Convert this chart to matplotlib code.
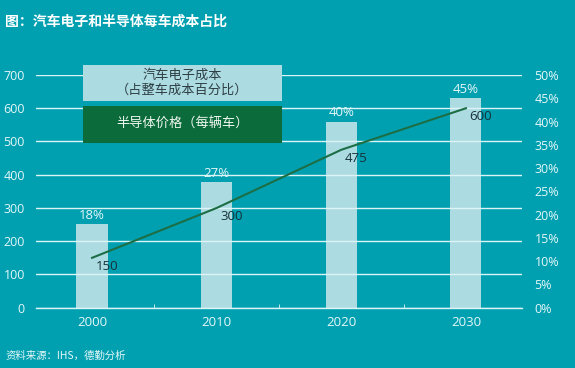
import numpy as np
import matplotlib.pyplot as plt
from matplotlib.patches import Rectangle

plt.rcParams['font.family'] = ['Open Sans', 'Noto Sans CJK SC', 'DejaVu Sans']

years = ['2000', '2010', '2020', '2030']
share_pct = [18, 27, 40, 45]          # electronics cost share of car (right axis)
semi_price = [150, 300, 475, 600]     # semiconductor cost per car (left axis)
left_ticks = [0, 100, 200, 300, 400, 500, 600, 700]
right_ticks = [0, 5, 10, 15, 20, 25, 30, 35, 40, 45, 50]

bg = '#00A0B0'
bar_c = '#ADDBE2'
green = '#0B6B3A'
line_c = '#1C6E45'
txt = '#E6F7F9'

fig = plt.figure(figsize=(5.75, 3.68), dpi=100, facecolor=bg)
ax = fig.add_axes([0.0626, 0.1639, 0.8452, 0.6323], facecolor=bg)
ax2 = ax.twinx()

x = np.arange(len(years))

# bars on right axis
ax2.bar(x, share_pct, width=0.25, color=bar_c, zorder=2)
for xi, v in zip(x, share_pct):
    ax2.annotate(f'{v}%', (xi, v), xytext=(0, 1.5), textcoords='offset points',
                 ha='center', va='bottom', color=txt, fontsize=9.5)
ax2.set_ylim(0, 50)
ax2.set_yticks(right_ticks)
ax2.set_yticklabels([f'{t}%' for t in right_ticks])

# gridlines + line on left axis
ax.set_ylim(0, 700)
ax.set_yticks(left_ticks)
ax.grid(axis='y', color='#DDF4F7', linewidth=1)
ax.set_axisbelow(True)
ax.set_zorder(ax2.get_zorder() + 1)
ax.patch.set_visible(False)
ax2.patch.set_visible(False)
ax.plot(x, semi_price, color=line_c, linewidth=1.5, zorder=3)
for xi, v in zip(x, semi_price):
    ax.annotate(str(v), (xi, v), xytext=(2.5, -1.5), textcoords='offset points',
                ha='left', va='top', color='#16323A', fontsize=9.5)

ax.set_xlim(-0.45, 3.45)
ax.set_xticks(x)
ax.set_xticklabels(years)
ax.set_xticks([0.5, 1.5, 2.5], minor=True)
ax.tick_params(axis='x', which='major', length=0, colors=txt, labelsize=9.5, pad=6)
ax.tick_params(axis='x', which='minor', length=3, direction='in', color='#DDF4F7')
ax.tick_params(axis='y', length=0, colors=txt, labelsize=9, pad=8)
ax2.tick_params(axis='y', length=0, colors=txt, labelsize=9, pad=9)

for a in (ax, ax2):
    for s in a.spines.values():
        s.set_visible(False)
ax.spines['bottom'].set_visible(True)
ax.spines['bottom'].set_color('#DDF4F7')
ax.spines['bottom'].set_linewidth(1)

# legend boxes
fig.patches.append(Rectangle((0.1443, 0.7255), 0.346, 0.0978, transform=fig.transFigure,
                             facecolor=bar_c, edgecolor='none', zorder=5))
fig.patches.append(Rectangle((0.1443, 0.6114), 0.346, 0.1005, transform=fig.transFigure,
                             facecolor=green, edgecolor='none', zorder=5))
fig.text(0.3173, 0.7744, '汽车电子成本\n（占整车成本百分比）', ha='center', va='center',
         color='#2E3F44', fontsize=9.5, linespacing=1.15, zorder=6)
fig.text(0.3173, 0.6617, '半导体价格（每辆车）', ha='center', va='center',
         color='#F0F7F2', fontsize=9.5, zorder=6)

fig.text(0.009, 0.94, '图：汽车电子和半导体每车成本占比', ha='left', va='center',
         color='white', fontsize=10, fontweight='bold',
         family=['Noto Sans CJK SC', 'DejaVu Sans'])
fig.text(0.009, 0.033, '资料来源：IHS，德勤分析', ha='left', va='center',
         color=txt, fontsize=7.5, family=['Noto Sans CJK SC', 'DejaVu Sans'])

fig.savefig('out.png', dpi=100, facecolor=bg)
